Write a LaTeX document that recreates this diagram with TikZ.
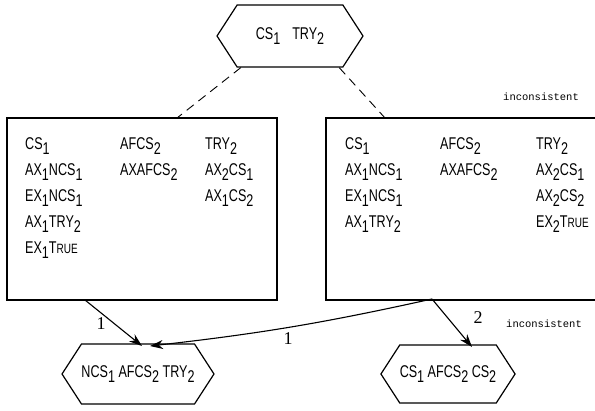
\documentclass[tikz,border=0pt]{standalone}
\usepackage{fontspec}
\setmainfont[FakeStretch=0.74]{Liberation Sans}
\newfontfamily\monofont{Liberation Mono}
\newfontfamily\numfont{Liberation Serif}
\usetikzlibrary{shapes.symbols,arrows.meta,calc}
% lowered subscript index
\newcommand{\lo}[1]{\raisebox{-0.6ex}{#1}}
% small-caps style "True"
\newcommand{\tru}{T{\fontsize{13.5}{13}\selectfont RUE}}
\begin{document}
\begin{tikzpicture}[x=1pt,y=-1pt,
  every node/.style={font=\fontsize{17}{20}\selectfont, inner sep=0pt},
  hexa/.style={signal, signal to=west and east, signal pointer angle=114,
    draw, line width=1.2pt},
  state/.style={draw, line width=1.3pt},
  item/.style={anchor=west},
  link/.style={line width=0.9pt, dash pattern=on 9pt off 6pt},
  arc/.style={line width=1.1pt, -{Stealth[length=13pt,width=9pt]}},
  num/.style={font=\numfont\fontsize{18}{20}\selectfont},
  note/.style={font=\monofont\fontsize{10.5}{12}\selectfont, anchor=west}]
\useasboundingbox (0,0) rectangle (595,411);
\clip (0,0) rectangle (595,411);
\fill[white] (0,0) rectangle (595,411);

% root state
\node[hexa, minimum width=146pt, minimum height=62pt] (top) at (290,36)
  {CS\lo{1}\hspace{12pt}TRY\lo{2}};

% the two successor boxes
\node[state, minimum width=270pt, minimum height=182pt] (L) at (142,209) {};
\node[state, minimum width=280pt, minimum height=182pt] (R) at (466,209) {};

% left box contents
\node[item] (l11) at (25,146)  {CS\lo{1}};
\node[item] (l12) at (25,172)  {AX\lo{1}NCS\lo{1}};
\node[item] (l13) at (25,198)  {EX\lo{1}NCS\lo{1}};
\node[item] (l14) at (25,224)  {AX\lo{1}TRY\lo{2}};
\node[item] (l15) at (25,250)  {EX\lo{1}\tru};
\node[item] (l21) at (120,146) {AFCS\lo{2}};
\node[item] (l22) at (120,172) {AXAFCS\lo{2}};
\node[item] (l31) at (205,146) {TRY\lo{2}};
\node[item] (l32) at (205,172) {AX\lo{2}CS\lo{1}};
\node[item] (l33) at (205,198) {AX\lo{1}CS\lo{2}};

% right box contents
\node[item] (r11) at (345,146) {CS\lo{1}};
\node[item] (r12) at (345,172) {AX\lo{1}NCS\lo{1}};
\node[item] (r13) at (345,198) {EX\lo{1}NCS\lo{1}};
\node[item] (r14) at (345,224) {AX\lo{1}TRY\lo{2}};
\node[item] (r21) at (440,146) {AFCS\lo{2}};
\node[item] (r22) at (440,172) {AXAFCS\lo{2}};
\node[item] (r31) at (536,146) {TRY\lo{2}};
\node[item] (r32) at (536,172) {AX\lo{2}CS\lo{1}};
\node[item] (r33) at (536,198) {AX\lo{2}CS\lo{2}};
\node[item] (r34) at (536,224) {EX\lo{2}\tru};

% leaf states
\node[hexa, minimum width=116pt, minimum height=60pt] (bl) at (138,374)
  {NCS\lo{1} AFCS\lo{2} TRY\lo{2}};
\node[hexa, minimum width=114pt, minimum height=58pt] (br) at (448,374)
  {CS\lo{1} AFCS\lo{2} CS\lo{2}};

% annotations
\node[note] (n1) at (503,97)  {inconsistent};
\node[note] (n2) at (506,324) {inconsistent};

% dashed links from the root
\coordinate (lt) at (177,118);
\coordinate (rt) at (385,118);
\draw[link] ($(top.south west)+(4,0)$) -- (lt);
\draw[link] ($(top.south east)+(-4,0)$) -- (rt);

% transitions
\coordinate (lo) at (85,300);
\coordinate (ro) at (432,299);
\coordinate (bla) at (142,346);
\coordinate (blb) at (150,346);
\coordinate (bra) at (472,347);
\draw[arc] (lo) -- (bla);
\draw[arc] (ro) to[bend left=3] (blb);
\draw[arc] (ro) -- (bra);
\node[num] (e1) at (101,324) {1};
\node[num] (e2) at (288,339) {1};
\node[num] (e3) at (478,318) {2};
\end{tikzpicture}
\end{document}
